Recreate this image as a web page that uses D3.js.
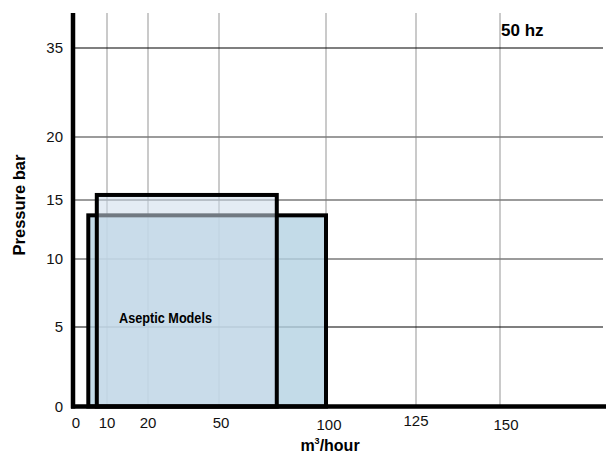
<!DOCTYPE html>
<html>
<head>
<meta charset="utf-8">
<script src="https://cdn.jsdelivr.net/npm/d3@7"></script>
<style>
  html, body { margin: 0; padding: 0; background: #fff; }
  svg { display: block; font-family: "Liberation Sans", Arial, sans-serif; }
</style>
</head>
<body>
<svg id="chart" width="606" height="455"></svg>
<script>
// ---- data ----
const xTickValues = [0, 10, 20, 50, 100, 125, 150];
const xTickLabels = ["0", "10", "20", "50", "100", "125", "150"];
const yTickValues = [0, 5, 10, 15, 20, 35];
const yTickLabels = ["0", "5", "10", "15", "20", "35"];
const modelNames = ["Range A", "Range B"];
const flowMin = [4.5, 7];
const flowMax = [100, 77];
const pressureMax = [13.7, 15.4];
const areaLabel = "Aseptic Models";
const freqLabel = "50 hz";

// ---- scales (piecewise, non-uniform axes as in the original) ----
const x = d3.scaleLinear()
  .domain([0, 10, 20, 50, 100, 125, 150, 181])
  .range([73, 107, 148, 219, 326, 416, 500, 606]);
const y = d3.scaleLinear()
  .domain([0, 5, 10, 15, 20, 35, 40])
  .range([406.5, 327, 259, 200, 137, 48, 13]);

const svg = d3.select("#chart");
const yTop = y(40), yBot = y(0), xLeft = x(0), xRight = 603;

// vertical grid
svg.append("g").selectAll("line")
  .data(xTickValues.filter(d => d > 0))
  .join("line")
  .attr("x1", d => x(d)).attr("x2", d => x(d))
  .attr("y1", yTop).attr("y2", yBot)
  .attr("stroke", "#b8b8b8").attr("stroke-width", 1.5);

// horizontal grid
svg.append("g").selectAll("line")
  .data(yTickValues.filter(d => d > 0))
  .join("line")
  .attr("x1", xLeft).attr("x2", xRight)
  .attr("y1", d => y(d)).attr("y2", d => y(d))
  .attr("stroke", d => (d === 35 || d === 5) ? "#000" : "#7a7a7a")
  .attr("stroke-width", d => (d === 35 || d === 5) ? 1.2 : 1.6);

// range rectangles
const fills = ["rgba(180,210,226,0.8)", "rgba(205,220,235,0.55)"];
svg.append("g").selectAll("rect")
  .data(modelNames.map((n, i) => ({ n, i, x0: flowMin[i], x1: flowMax[i], p: pressureMax[i] })))
  .join("rect")
  .attr("x", d => x(d.x0)).attr("width", d => x(d.x1) - x(d.x0))
  .attr("y", d => y(d.p)).attr("height", d => y(0) - y(d.p))
  .attr("fill", d => fills[d.i])
  .attr("stroke", "#000").attr("stroke-width", 4);

// axes (thick black)
svg.append("line")
  .attr("x1", xLeft).attr("x2", xLeft)
  .attr("y1", yTop).attr("y2", yBot + 2)
  .attr("stroke", "#000").attr("stroke-width", 4.5);
svg.append("line")
  .attr("x1", xLeft - 2).attr("x2", 606)
  .attr("y1", yBot).attr("y2", yBot)
  .attr("stroke", "#000").attr("stroke-width", 4.5);

// tick labels
svg.append("g").selectAll("text")
  .data(yTickValues)
  .join("text")
  .attr("x", 63).attr("y", d => y(d))
  .attr("dy", "0.36em")
  .attr("text-anchor", "end")
  .attr("font-size", 15)
  .attr("fill", "#111")
  .text((d, i) => yTickLabels[i]);

svg.append("g").selectAll("text")
  .data(xTickValues)
  .join("text")
  .attr("x", d => x(d) + (d === 0 ? 3 : 0) + (d === 50 ? 2 : 0) + (d === 100 ? 3 : 0) + (d === 150 ? 6 : 0))
  .attr("y", d => d === 125 ? 421 : (d >= 100 ? 425 : 423))
  .attr("dy", "0.36em")
  .attr("text-anchor", "middle")
  .attr("font-size", 15)
  .attr("fill", "#111")
  .text((d, i) => xTickLabels[i]);

// titles
svg.append("text")
  .attr("transform", `translate(25,205) rotate(-90)`)
  .attr("text-anchor", "middle")
  .attr("font-size", 16.5).attr("font-weight", "bold")
  .text("Pressure bar");

const xt = svg.append("text")
  .attr("x", 330).attr("y", 451)
  .attr("text-anchor", "middle")
  .attr("font-size", 16).attr("font-weight", "bold");
xt.append("tspan").text("m");
xt.append("tspan").attr("font-size", 9).attr("dy", -7).text("3");
xt.append("tspan").attr("dy", 7).text("/hour");

svg.append("text")
  .attr("x", 501).attr("y", 36)
  .attr("text-anchor", "start")
  .attr("font-size", 17).attr("font-weight", "bold")
  .text(freqLabel);

svg.append("text")
  .attr("x", 119).attr("y", 323)
  .attr("font-family", "'Liberation Sans Narrow', 'Arial Narrow', 'Liberation Sans', sans-serif")
  .attr("font-size", 15.5).attr("font-weight", "bold")
  .attr("textLength", 93).attr("lengthAdjust", "spacingAndGlyphs")
  .text(areaLabel);
</script>
</body>
</html>
